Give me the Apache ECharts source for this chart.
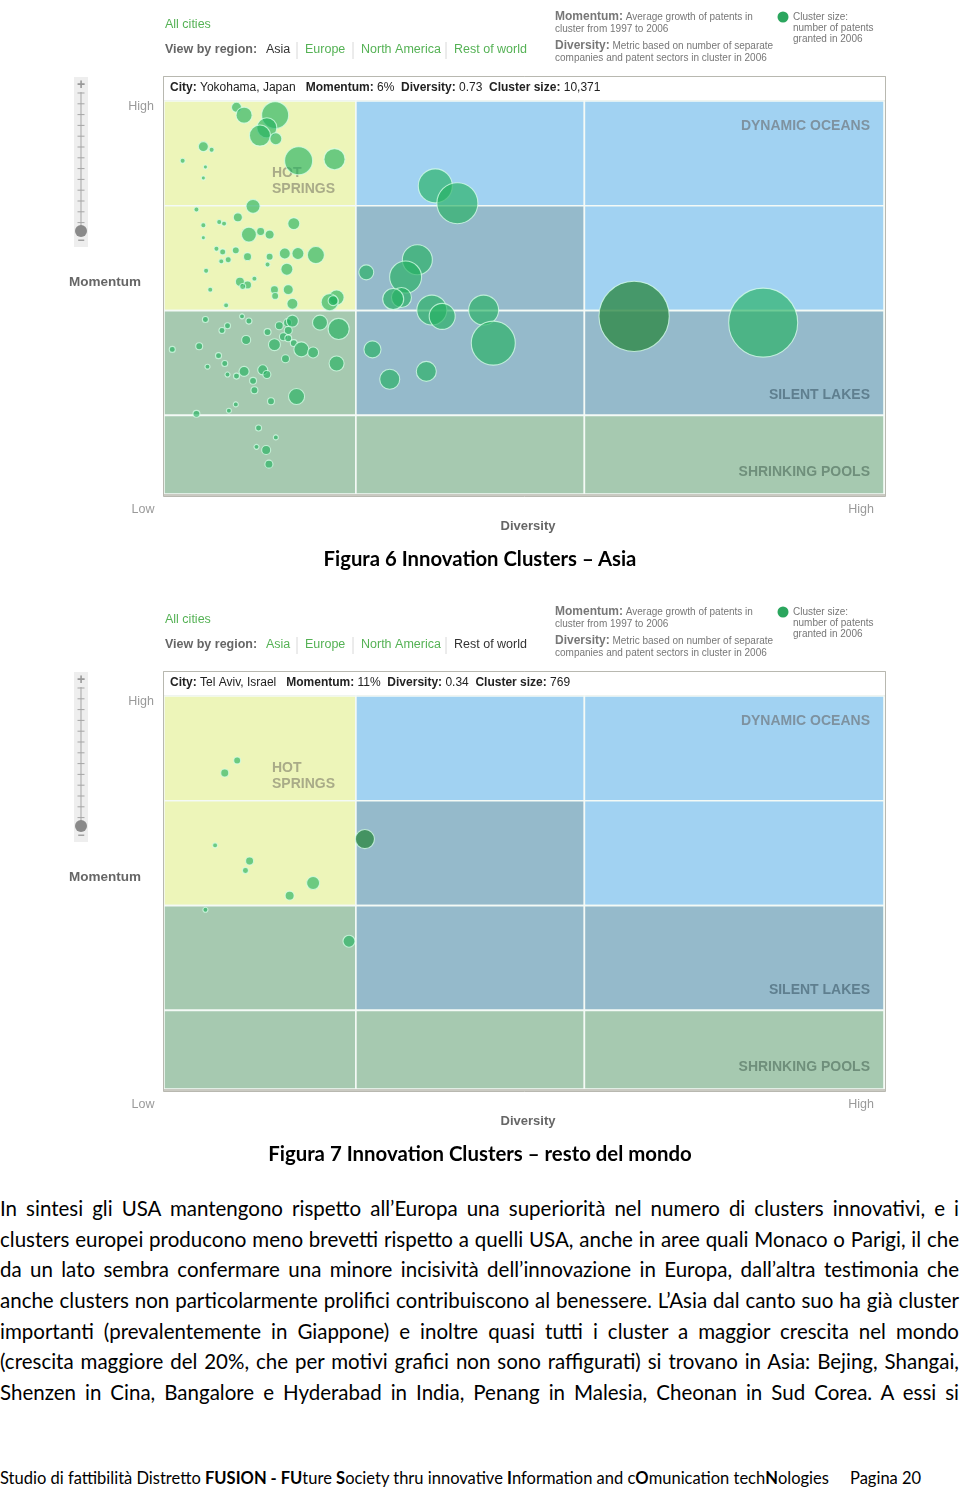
<!DOCTYPE html>
<html><head><meta charset="utf-8">
<script src="https://cdn.jsdelivr.net/npm/echarts@6/dist/echarts.min.js"></script>
<style>
html,body{margin:0;padding:0;background:#fff;}
body{width:960px;height:1488px;position:relative;overflow:hidden;font-family:Lato,'Noto Sans',sans-serif;color:#000;}
#chart{position:absolute;left:0;top:0;width:960px;height:1180px;}
.cap{position:absolute;left:0;width:960px;text-align:center;font-weight:bold;font-size:19px;line-height:24px;}
.cap span{white-space:nowrap;}
#para{position:absolute;left:0;top:1193px;width:959px;font-size:19px;}
#para div{text-align:justify;text-align-last:justify;height:30.67px;line-height:30.67px;white-space:normal;}
#foot{position:absolute;left:0;top:1466px;font-size:16px;line-height:24px;white-space:nowrap;}
#page{position:absolute;left:850px;top:1466px;font-size:16px;line-height:24px;white-space:nowrap;}
.m{display:inline-block;white-space:nowrap;}
</style></head>
<body>
<div id="chart"></div>
<div class="cap" id="cap1" style="top:546px"><span class="m">Figura 6 Innovation Clusters – Asia</span></div>
<div class="cap" id="cap2" style="top:1141px"><span class="m">Figura 7 Innovation Clusters – resto del mondo</span></div>
<div id="para"></div>
<div id="foot"><span class="m">Studio di fattibilità Distretto <b>FUSION - FU</b>ture <b>S</b>ociety thru innovative <b>I</b>nformation and c<b>O</b>munication tech<b>N</b>ologies</span></div>
<div id="page">Pagina 20</div>
<script>
// ---------- DATA ----------
const diversityBreaks = [0.049, 0.327, 0.658, 1.092];
const momentumBreaks = [-5, 0, 6.667, 13.333, 20];
// zones, rows from high momentum to low, columns from low to high diversity
const zoneRows = [
  ['hot', 'ocean', 'ocean'],
  ['hot', 'lake', 'ocean'],
  ['pool', 'lake', 'lake'],
  ['pool', 'pool', 'pool']
];
const zoneNames = ['DYNAMIC OCEANS', 'HOT\nSPRINGS', 'SILENT LAKES', 'SHRINKING POOLS'];
const regionTabs = ['Asia', 'Europe', 'North America', 'Rest of world'];

// Asia clusters
const asiaDiversity = [0.154,0.165,0.210,0.198,0.188,0.211,0.106,0.118,0.076,0.109,0.106,0.244,0.296,0.442,0.474,0.178,0.096,0.156,0.106,0.129,0.136,0.237,0.172,0.189,0.202,0.106,0.269,0.243,0.224,0.202,0.170,0.153,0.134,0.125,0.142,0.132,0.199,0.227,0.110,0.159,0.170,0.163,0.180,0.209,0.210,0.229,0.116,0.235,0.139,0.299,0.289,0.294,0.342,0.416,0.399,0.393,0.381,0.437,0.512,0.452,0.526,0.917,0.109,0.141,0.133,0.162,0.172,0.168,0.199,0.216,0.228,0.235,0.229,0.222,0.229,0.237,0.209,0.248,0.265,0.275,0.302,0.299,0.061,0.100,0.128,0.137,0.112,0.141,0.154,0.165,0.192,0.198,0.178,0.180,0.225,0.241,0.204,0.153,0.143,0.096,0.186,0.211,0.183,0.197,0.201,0.351,0.376,0.429];
const asiaMomentum = [19.6,19.1,19.1,18.3,17.8,17.6,17.1,16.9,16.2,15.8,15.1,16.2,16.3,14.6,13.5,13.3,13.1,12.6,12.1,12.3,12.2,12.2,11.5,11.7,11.5,11.3,10.2,10.3,10.3,10.1,10.1,10.5,10.4,10.6,9.9,9.8,9.6,9.3,9.2,8.5,8.3,8.2,8.7,8.0,7.6,8.0,8.0,7.1,7.0,7.5,7.2,7.3,9.1,9.9,8.8,7.5,7.4,6.7,6.7,6.3,4.6,5.9,6.1,5.7,5.4,6.3,6.0,4.8,5.3,5.7,5.9,6.0,5.4,5.0,4.9,4.6,4.5,4.2,4.0,5.9,5.5,3.3,4.2,4.4,3.8,3.3,3.1,2.6,2.5,2.8,2.9,2.6,2.2,1.6,3.6,1.2,0.9,0.7,0.3,0.1,-0.8,-1.4,-2.0,-2.2,-3.1,4.2,2.3,2.8];
const asiaSize = [210,540,1530,840,930,300,210,52,52,34,34,1650,930,2430,3530,410,52,170,52,52,52,300,470,134,170,34,610,300,250,100,134,100,76,52,76,52,52,300,52,170,134,76,52,134,100,210,52,250,52,470,610,210,470,1890,2150,840,930,1890,1890,1420,4070,10000,76,76,76,52,76,170,100,134,134,300,134,134,100,100,300,470,250,470,930,470,76,100,76,76,52,52,76,210,210,134,100,100,134,540,100,52,52,100,76,52,52,170,134,610,840,840];
const asiaSelected = { city: 'Yokohama, Japan', momentumLabel: '6%', diversity: 0.73, momentum: 6.3, size: 10371 };

// Rest of world clusters
const rowDiversity = [0.155,0.137,0.123,0.173,0.167,0.265,0.231,0.109,0.317];
const rowMomentum  = [15.9,15.1,10.5,9.5,8.9,8.1,7.3,6.4,4.4];
const rowSize      = [100,134,52,134,76,355,170,52,300];
const rowSelected = { city: 'Tel Aviv, Israel', momentumLabel: '11%', diversity: 0.34, momentum: 10.9, size: 769 };

// ---------- STYLE ----------
const zoneColors = { hot: '#EDF5B9', ocean: '#A1D2F2', lake: '#95BACB', pool: '#A6C9B0' };
const GREEN = '#55B255';
const FONT = "'Liberation Sans', Arial, sans-serif";

function cells() {
  const out = [];
  for (let r = 0; r < zoneRows.length; r++) {
    for (let c = 0; c < 3; c++) {
      const top = momentumBreaks[momentumBreaks.length - 1 - r];
      const bot = momentumBreaks[momentumBreaks.length - 2 - r];
      out.push([diversityBreaks[c], diversityBreaks[c + 1], bot, top, zoneRows[r][c]]);
    }
  }
  return out;
}

function regionSeries(idx) {
  return {
    type: 'custom', xAxisIndex: idx, yAxisIndex: idx, z: 0, silent: true,
    data: cells(),
    renderItem: function (params, api) {
      const p0 = api.coord([api.value(0), api.value(3)]);
      const p1 = api.coord([api.value(1), api.value(2)]);
      const zone = cells()[params.dataIndex][4];
      return {
        type: 'rect',
        shape: { x: p0[0], y: p0[1], width: p1[0] - p0[0], height: p1[1] - p0[1] },
        style: { fill: zoneColors[zone], stroke: '#F4FAF6', lineWidth: 1.6 }
      };
    }
  };
}

function bubbleSeries(idx, xs, ys, ss) {
  return {
    type: 'scatter', xAxisIndex: idx, yAxisIndex: idx, z: 3, silent: true,
    data: xs.map((x, i) => [x, ys[i], ss[i]]),
    symbolSize: v => 0.69 * Math.sqrt(v[2]),
    itemStyle: { color: 'rgba(34,176,96,0.8)', borderColor: 'rgba(215,255,232,0.95)', borderWidth: 1.1 }
  };
}
function selectedSeries(idx, s) {
  return {
    type: 'scatter', xAxisIndex: idx, yAxisIndex: idx, z: 4, silent: true,
    data: [[s.diversity, s.momentum, s.size]],
    symbolSize: v => 0.69 * Math.sqrt(v[2]),
    itemStyle: { color: '#2F8A47', borderColor: 'rgba(215,255,232,0.95)', borderWidth: 1.1 }
  };
}

function txt(x, y, text, o) {
  o = o || {};
  return {
    type: 'text', z: o.z || 5,
    style: {
      x: x, y: y, text: text, fill: o.fill || '#777',
      font: (o.bold ? 'bold ' : '') + (o.size || 12) + 'px ' + FONT,
      align: o.align || 'left', verticalAlign: 'middle',
      rich: o.rich, lineHeight: o.lh
    }
  };
}

function panel(oy, selectedTab, sel) {
  const els = [];
  // header
  els.push(txt(165, 25 + oy, 'All cities', { fill: GREEN, size: 12.5 }));
  els.push(txt(165, 50 + oy, 'View by region:', { bold: true, fill: '#666', size: 12.5 }));
  const tabX = [266, 305, 361, 454];
  regionTabs.forEach((t, i) => {
    els.push(txt(tabX[i], 50 + oy, t, { fill: i === selectedTab ? '#333' : GREEN, size: 12.5 }));
  });
  [297, 353, 446].forEach(x => els.push({ type: 'line', z: 5, shape: { x1: x, y1: 42 + oy, x2: x, y2: 59 + oy }, style: { stroke: '#D8D8D8', lineWidth: 1 } }));
  const rich = { b: { fontWeight: 'bold', fill: '#777', font: 'bold 10px ' + FONT } };
  els.push(txt(555, 17 + oy, '{b|Momentum:} Average growth of patents in', { size: 10, rich: rich }));
  els.push(txt(555, 29 + oy, 'cluster from 1997 to 2006', { size: 10 }));
  els.push(txt(555, 46 + oy, '{b|Diversity:} Metric based on number of separate', { size: 10, rich: rich }));
  els.push(txt(555, 58 + oy, 'companies and patent sectors in cluster in 2006', { size: 10 }));
  els.push({ type: 'circle', z: 5, shape: { cx: 783, cy: 17 + oy, r: 5.5 }, style: { fill: '#2BA65E' } });
  els.push(txt(793, 17 + oy, 'Cluster size:', { size: 10 }));
  els.push(txt(793, 28 + oy, 'number of patents', { size: 10 }));
  els.push(txt(793, 39 + oy, 'granted in 2006', { size: 10 }));
  // info bar & frame
  els.push({ type: 'rect', z: 0, shape: { x: 163.5, y: 76.5 + oy, width: 722, height: 24.5 }, style: { fill: '#fff', stroke: '#C4C4BC', lineWidth: 1 } });
  els.push({ type: 'rect', z: 6, shape: { x: 163.5, y: 494 + oy, width: 722, height: 2.5 }, style: { fill: '#CACAC2' } });
  els.push({ type: 'rect', z: 7, shape: { x: 163.5, y: 76.5 + oy, width: 722, height: 420 }, style: { fill: 'none', stroke: '#B8B8B0', lineWidth: 1 } });
  const richInfo = { b: { font: 'bold 12px ' + FONT, fill: '#222' } };
  els.push(txt(170, 88 + oy, '{b|City:} ' + sel.city + '   {b|Momentum:} ' + sel.momentumLabel + '  {b|Diversity:} ' + sel.diversity.toFixed(2) + '  {b|Cluster size:} ' + sel.size.toLocaleString('en-US'), { fill: '#222', rich: richInfo }));
  // zone labels (under bubbles)
  els.push(txt(870, 126 + oy, zoneNames[0], { bold: true, size: 14, fill: '#7E92A0', align: 'right', z: 1 }));
  els.push(txt(272, 181 + oy, zoneNames[1], { bold: true, size: 14, fill: '#A9AB88', z: 1, lh: 16 }));
  els.push(txt(870, 395 + oy, zoneNames[2], { bold: true, size: 14, fill: '#5F7F8F', align: 'right', z: 1 }));
  els.push(txt(870, 472 + oy, zoneNames[3], { bold: true, size: 14, fill: '#6F8F7B', align: 'right', z: 1 }));
  // axis labels
  els.push(txt(154, 107 + oy, 'High', { fill: '#9A9A9A', align: 'right', size: 12.5 }));
  els.push(txt(105, 282 + oy, 'Momentum', { fill: '#666', bold: true, align: 'center', size: 13.5 }));
  els.push(txt(143, 510 + oy, 'Low', { fill: '#9A9A9A', align: 'center', size: 12.5 }));
  els.push(txt(861, 510 + oy, 'High', { fill: '#9A9A9A', align: 'center', size: 12.5 }));
  els.push(txt(528, 526 + oy, 'Diversity', { fill: '#666', bold: true, align: 'center', size: 13 }));
  // zoom slider
  els.push({ type: 'rect', z: 4, shape: { x: 74, y: 77 + oy, width: 14, height: 170 }, style: { fill: '#EEEEEE' } });
  els.push(txt(81, 85 + oy, '+', { fill: '#999', bold: true, size: 14, align: 'center' }));
  els.push({ type: 'line', z: 5, shape: { x1: 81, y1: 92 + oy, x2: 81, y2: 226 + oy }, style: { stroke: '#A5A5A5', lineWidth: 1 } });
  for (let i = 0; i < 13; i++) {
    const y = 93 + oy + i * 10.8;
    els.push({ type: 'line', z: 5, shape: { x1: 77.5, y1: y, x2: 84.5, y2: y }, style: { stroke: '#A5A5A5', lineWidth: 1 } });
  }
  els.push({ type: 'circle', z: 5, shape: { cx: 81, cy: 231 + oy, r: 6 }, style: { fill: '#8A8A8A' } });
  els.push(txt(81, 241 + oy, '−', { fill: '#999', bold: true, size: 12, align: 'center' }));
  return els;
}

const chart = echarts.init(document.getElementById('chart'), null, { renderer: 'canvas' });
const axisX = idx => ({ type: 'value', gridIndex: idx, min: diversityBreaks[0], max: diversityBreaks[3], show: false });
const axisY = idx => ({ type: 'value', gridIndex: idx, min: momentumBreaks[0], max: momentumBreaks[4], show: false });
chart.setOption({
  animation: false,
  grid: [
    { left: 164, top: 101, width: 720, height: 393 },
    { left: 164, top: 696, width: 720, height: 393 }
  ],
  xAxis: [axisX(0), axisX(1)],
  yAxis: [axisY(0), axisY(1)],
  series: [
    regionSeries(0), bubbleSeries(0, asiaDiversity, asiaMomentum, asiaSize), selectedSeries(0, asiaSelected),
    regionSeries(1), bubbleSeries(1, rowDiversity, rowMomentum, rowSize), selectedSeries(1, rowSelected)
  ],
  graphic: { elements: panel(0, 0, asiaSelected).concat(panel(595, 3, rowSelected)) }
});

// ---------- TEXT ----------
const paraLines = [
  'In sintesi gli USA mantengono rispetto all’Europa una superiorità nel numero di clusters innovativi, e i',
  'clusters europei producono meno brevetti rispetto a quelli USA, anche in aree quali Monaco o Parigi, il che',
  'da un lato sembra confermare una minore incisività dell’innovazione in Europa, dall’altra testimonia che',
  'anche clusters non particolarmente prolifici contribuiscono al benessere. L’Asia dal canto suo ha già cluster',
  'importanti (prevalentemente in Giappone) e inoltre quasi tutti i cluster a maggior crescita nel mondo',
  '(crescita maggiore del 20%, che per motivi grafici non sono raffigurati) si trovano in Asia: Bejing, Shangai,',
  'Shenzen in Cina, Bangalore e Hyderabad in India, Penang in Malesia, Cheonan in Sud Corea. A essi si'
];
const para = document.getElementById('para');
const probe = document.createElement('span');
probe.className = 'm'; probe.style.fontSize = '20px'; probe.textContent = paraLines[3];
document.body.appendChild(probe);
const fs = Math.min(21, 20 * 950 / probe.getBoundingClientRect().width);
probe.remove();
para.style.fontSize = fs + 'px';
paraLines.forEach(l => { const d = document.createElement('div'); d.textContent = l; para.appendChild(d); });

function fit(el, target, base) {
  const s = el.querySelector('.m');
  el.style.fontSize = base + 'px';
  const w = s.getBoundingClientRect().width;
  el.style.fontSize = (base * target / w) + 'px';
}
fit(document.getElementById('cap1'), 313, 20);
fit(document.getElementById('cap2'), 424, 20);
fit(document.getElementById('foot'), 829, 17);
document.getElementById('page').style.fontSize = document.getElementById('foot').style.fontSize;
</script>
</body></html>
